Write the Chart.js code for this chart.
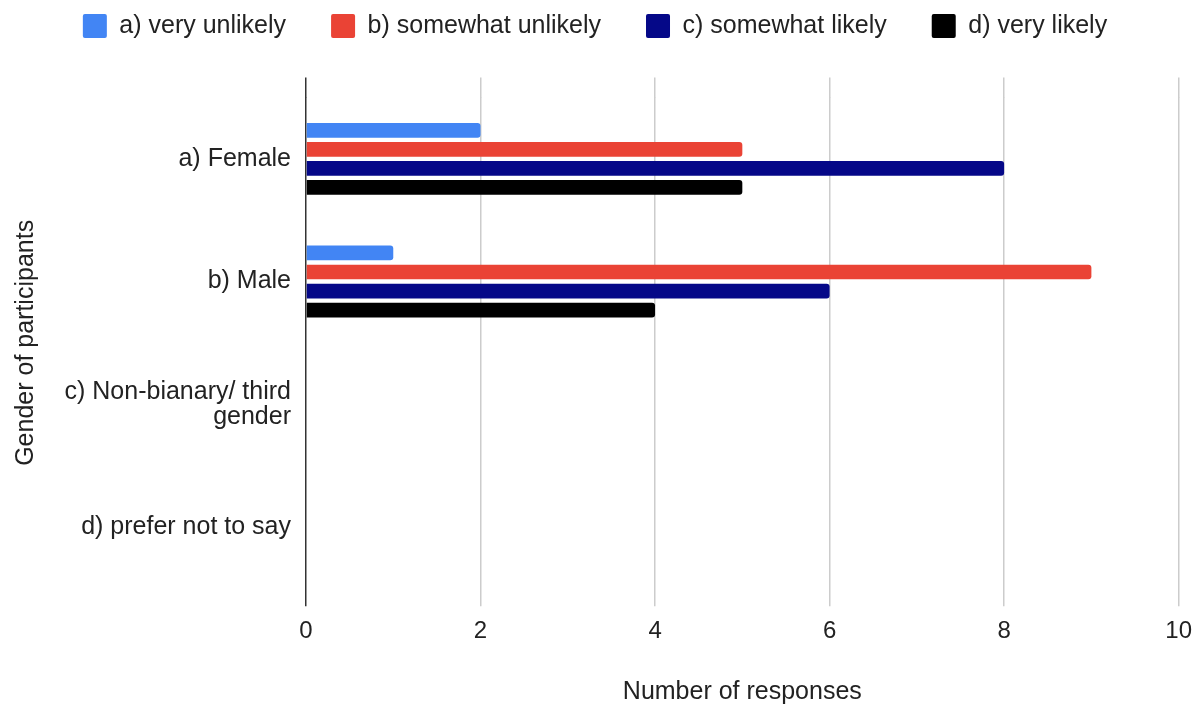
<!DOCTYPE html>
<html lang="en">
<head>
    <meta charset="UTF-8">
    <title>Gender of participants</title>
    <style>
        html, body { margin: 0; padding: 0; background: #fff; }
        .wrap { width: 1203px; height: 706px; position: relative; }
    </style>
</head>
<body>
    <div class="wrap">
        <canvas id="responses-chart"></canvas>
    </div>
    <script src="https://cdn.jsdelivr.net/npm/chart.js"></script>
    <script>
        // survey answers per gender group
        const genders = ["a) Female", "b) Male", ["c) Non-bianary/ third", "gender"], "d) prefer not to say"];
        const answerLabels = ["a) very unlikely", "b) somewhat unlikely", "c) somewhat likely", "d) very likely"];
        const veryUnlikely = [2, 1, 0, 0];
        const somewhatUnlikely = [5, 9, 0, 0];
        const somewhatLikely = [8, 6, 0, 0];
        const veryLikely = [5, 4, 0, 0];
        const answerColors = ["#4285F4", "#EA4335", "#050888", "#000000"];
        const xMin = 0, xMax = 10, xStep = 2;

        const textColor = "#222222";
        const fontFamily = "Arial, 'Liberation Sans', sans-serif";
        const gridColor = (ctx) => (ctx.tick && ctx.tick.value === 0 ? "#333333" : "#cccccc");

        const series = [veryUnlikely, somewhatUnlikely, somewhatLikely, veryLikely];

        new Chart(document.getElementById("responses-chart"), {
            type: "bar",
            data: {
                labels: genders,
                datasets: series.map((values, i) => ({
                    label: answerLabels[i],
                    data: values,
                    backgroundColor: answerColors[i],
                    borderWidth: 0,
                    borderRadius: 3,
                    categoryPercentage: 0.62,
                    barPercentage: 0.775
                }))
            },
            options: {
                indexAxis: "y",
                responsive: true,
                maintainAspectRatio: false,
                animation: false,
                layout: { padding: { top: -31.5, left: 10, right: 23, bottom: 0 } },
                plugins: {
                    tooltip: { enabled: false },
                    legend: {
                        position: "top",
                        labels: {
                            color: textColor,
                            font: { family: fontFamily, size: 25 },
                            boxWidth: 24,
                            boxHeight: 24,
                            useBorderRadius: true,
                            borderRadius: 2,
                            padding: 45
                        }
                    }
                },
                scales: {
                    x: {
                        type: "linear",
                        position: "bottom",
                        min: xMin,
                        max: xMax,
                        ticks: {
                            stepSize: xStep,
                            color: textColor,
                            padding: 11,
                            font: { family: fontFamily, size: 24 }
                        },
                        grid: {
                            color: gridColor,
                            lineWidth: 1.5,
                            drawTicks: true,
                            tickLength: 18
                        },
                        border: { display: false },
                        title: {
                            display: true,
                            text: "Number of responses",
                            color: textColor,
                            font: { family: fontFamily, size: 25, lineHeight: 1.12 },
                            padding: { top: 21, bottom: 0 }
                        }
                    },
                    // mirror axis on top, only its tick marks lift the grid above the bars
                    xTop: {
                        type: "linear",
                        position: "top",
                        min: xMin,
                        max: xMax,
                        ticks: { stepSize: xStep, display: false },
                        grid: {
                            color: gridColor,
                            lineWidth: 1.5,
                            drawOnChartArea: false,
                            drawTicks: true,
                            tickLength: 20
                        },
                        border: { display: false },
                        title: {
                            display: true,
                            text: "",
                            font: { size: 10, lineHeight: 1 },
                            padding: { top: 19, bottom: 0 }
                        }
                    },
                    y: {
                        position: "left",
                        grid: { display: false, drawTicks: false },
                        border: { display: false },
                        ticks: {
                            color: textColor,
                            padding: 15,
                            font: { family: fontFamily, size: 25, lineHeight: 1.0 }
                        },
                        title: {
                            display: true,
                            text: "Gender of participants",
                            color: textColor,
                            font: { family: fontFamily, size: 25, lineHeight: 1.12 },
                            padding: { top: 2, bottom: 0 }
                        },
                        afterFit: (scale) => { scale.width = 296; }
                    }
                }
            }
        });
    </script>
</body>
</html>
